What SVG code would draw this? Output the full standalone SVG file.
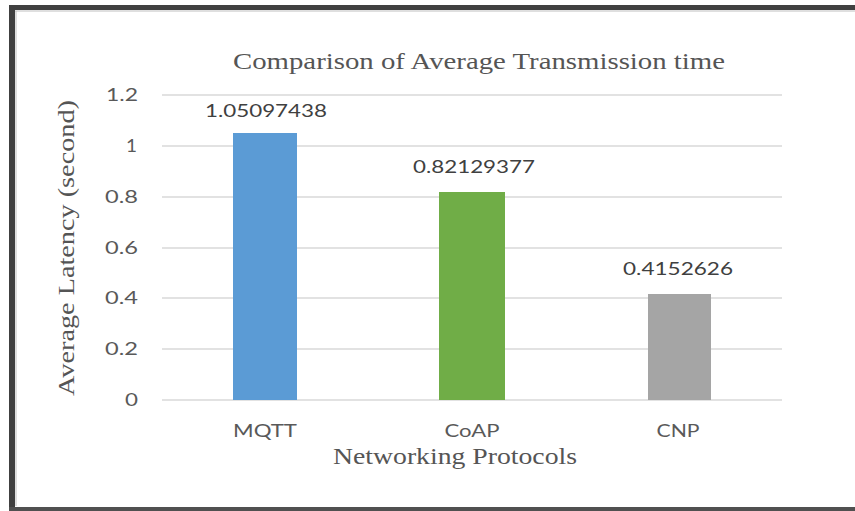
<svg xmlns="http://www.w3.org/2000/svg" width="855" height="511" viewBox="0 0 855 511">
  <style>
    .grid { stroke: #d9d9d9; stroke-width: 1.5; }
    .tick { font-family: Lato, "Open Sans", "Liberation Sans", sans-serif; font-size: 18px; fill: #595959; }
    .val { font-family: Lato, "Open Sans", "Liberation Sans", sans-serif; font-size: 18px; fill: #404040; }
    .serif { font-family: "Liberation Serif", "DejaVu Serif", serif; font-size: 23px; fill: #555555; }
  </style>

  <!-- page background and frame -->
  <rect x="0" y="0" width="855" height="511" fill="#ffffff"/>
  <g id="frame">
    <rect x="9" y="5" width="846" height="5" fill="#404040"/>
    <rect x="9" y="5" width="6" height="506" fill="#404040"/>
    <rect x="9" y="507" width="846" height="4" fill="#505050"/>
    <line x1="15" y1="11" x2="855" y2="11" stroke="#bfbfbf" stroke-width="1"/>
    <line x1="16" y1="11" x2="16" y2="506" stroke="#bfbfbf" stroke-width="1"/>
  </g>

  <!-- chart title -->
  <text class="serif" x="479" y="69" text-anchor="middle" textLength="492" lengthAdjust="spacingAndGlyphs">Comparison of Average Transmission time</text>

  <!-- gridlines -->
  <g id="gridlines">
    <line class="grid" x1="162" y1="95" x2="782" y2="95"/>
    <line class="grid" x1="162" y1="146" x2="782" y2="146"/>
    <line class="grid" x1="162" y1="197" x2="782" y2="197"/>
    <line class="grid" x1="162" y1="248" x2="782" y2="248"/>
    <line class="grid" x1="162" y1="298" x2="782" y2="298"/>
    <line class="grid" x1="162" y1="349" x2="782" y2="349"/>
    <line class="grid" x1="162" y1="400" x2="782" y2="400"/>
  </g>

  <!-- y-axis tick labels -->
  <g id="y-ticks">
    <text class="tick" x="138" y="101" text-anchor="end" textLength="32" lengthAdjust="spacingAndGlyphs">1.2</text>
    <text class="tick" x="137" y="152" text-anchor="end" textLength="11" lengthAdjust="spacingAndGlyphs">1</text>
    <text class="tick" x="138" y="203" text-anchor="end" textLength="33" lengthAdjust="spacingAndGlyphs">0.8</text>
    <text class="tick" x="138" y="254" text-anchor="end" textLength="33" lengthAdjust="spacingAndGlyphs">0.6</text>
    <text class="tick" x="138" y="304" text-anchor="end" textLength="33" lengthAdjust="spacingAndGlyphs">0.4</text>
    <text class="tick" x="138" y="355" text-anchor="end" textLength="33" lengthAdjust="spacingAndGlyphs">0.2</text>
    <text class="tick" x="138" y="406" text-anchor="end" textLength="13" lengthAdjust="spacingAndGlyphs">0</text>
  </g>

  <!-- bars with data labels -->
  <g id="bar-mqtt">
    <rect x="233" y="133" width="64" height="267" fill="#5b9bd5"/>
    <text class="val" x="266" y="117" text-anchor="middle" textLength="122" lengthAdjust="spacingAndGlyphs">1.05097438</text>
    <text class="tick" x="265" y="437" text-anchor="middle" textLength="64" lengthAdjust="spacingAndGlyphs">MQTT</text>
  </g>
  <g id="bar-coap">
    <rect x="439" y="192" width="66" height="208" fill="#70ad47"/>
    <text class="val" x="474" y="173" text-anchor="middle" textLength="122" lengthAdjust="spacingAndGlyphs">0.82129377</text>
    <text class="tick" x="472" y="437" text-anchor="middle" textLength="55" lengthAdjust="spacingAndGlyphs">CoAP</text>
  </g>
  <g id="bar-cnp">
    <rect x="648" y="294" width="63" height="106" fill="#a5a5a5"/>
    <text class="val" x="678" y="275" text-anchor="middle" textLength="110" lengthAdjust="spacingAndGlyphs">0.4152626</text>
    <text class="tick" x="678" y="437" text-anchor="middle" textLength="43" lengthAdjust="spacingAndGlyphs">CNP</text>
  </g>

  <!-- axis titles -->
  <text class="serif" x="455" y="464" text-anchor="middle" textLength="244" lengthAdjust="spacingAndGlyphs">Networking Protocols</text>
  <text class="serif" transform="translate(74,248) rotate(-90)" x="0" y="0" text-anchor="middle" textLength="296" lengthAdjust="spacingAndGlyphs">Average Latency (second)</text>
</svg>
